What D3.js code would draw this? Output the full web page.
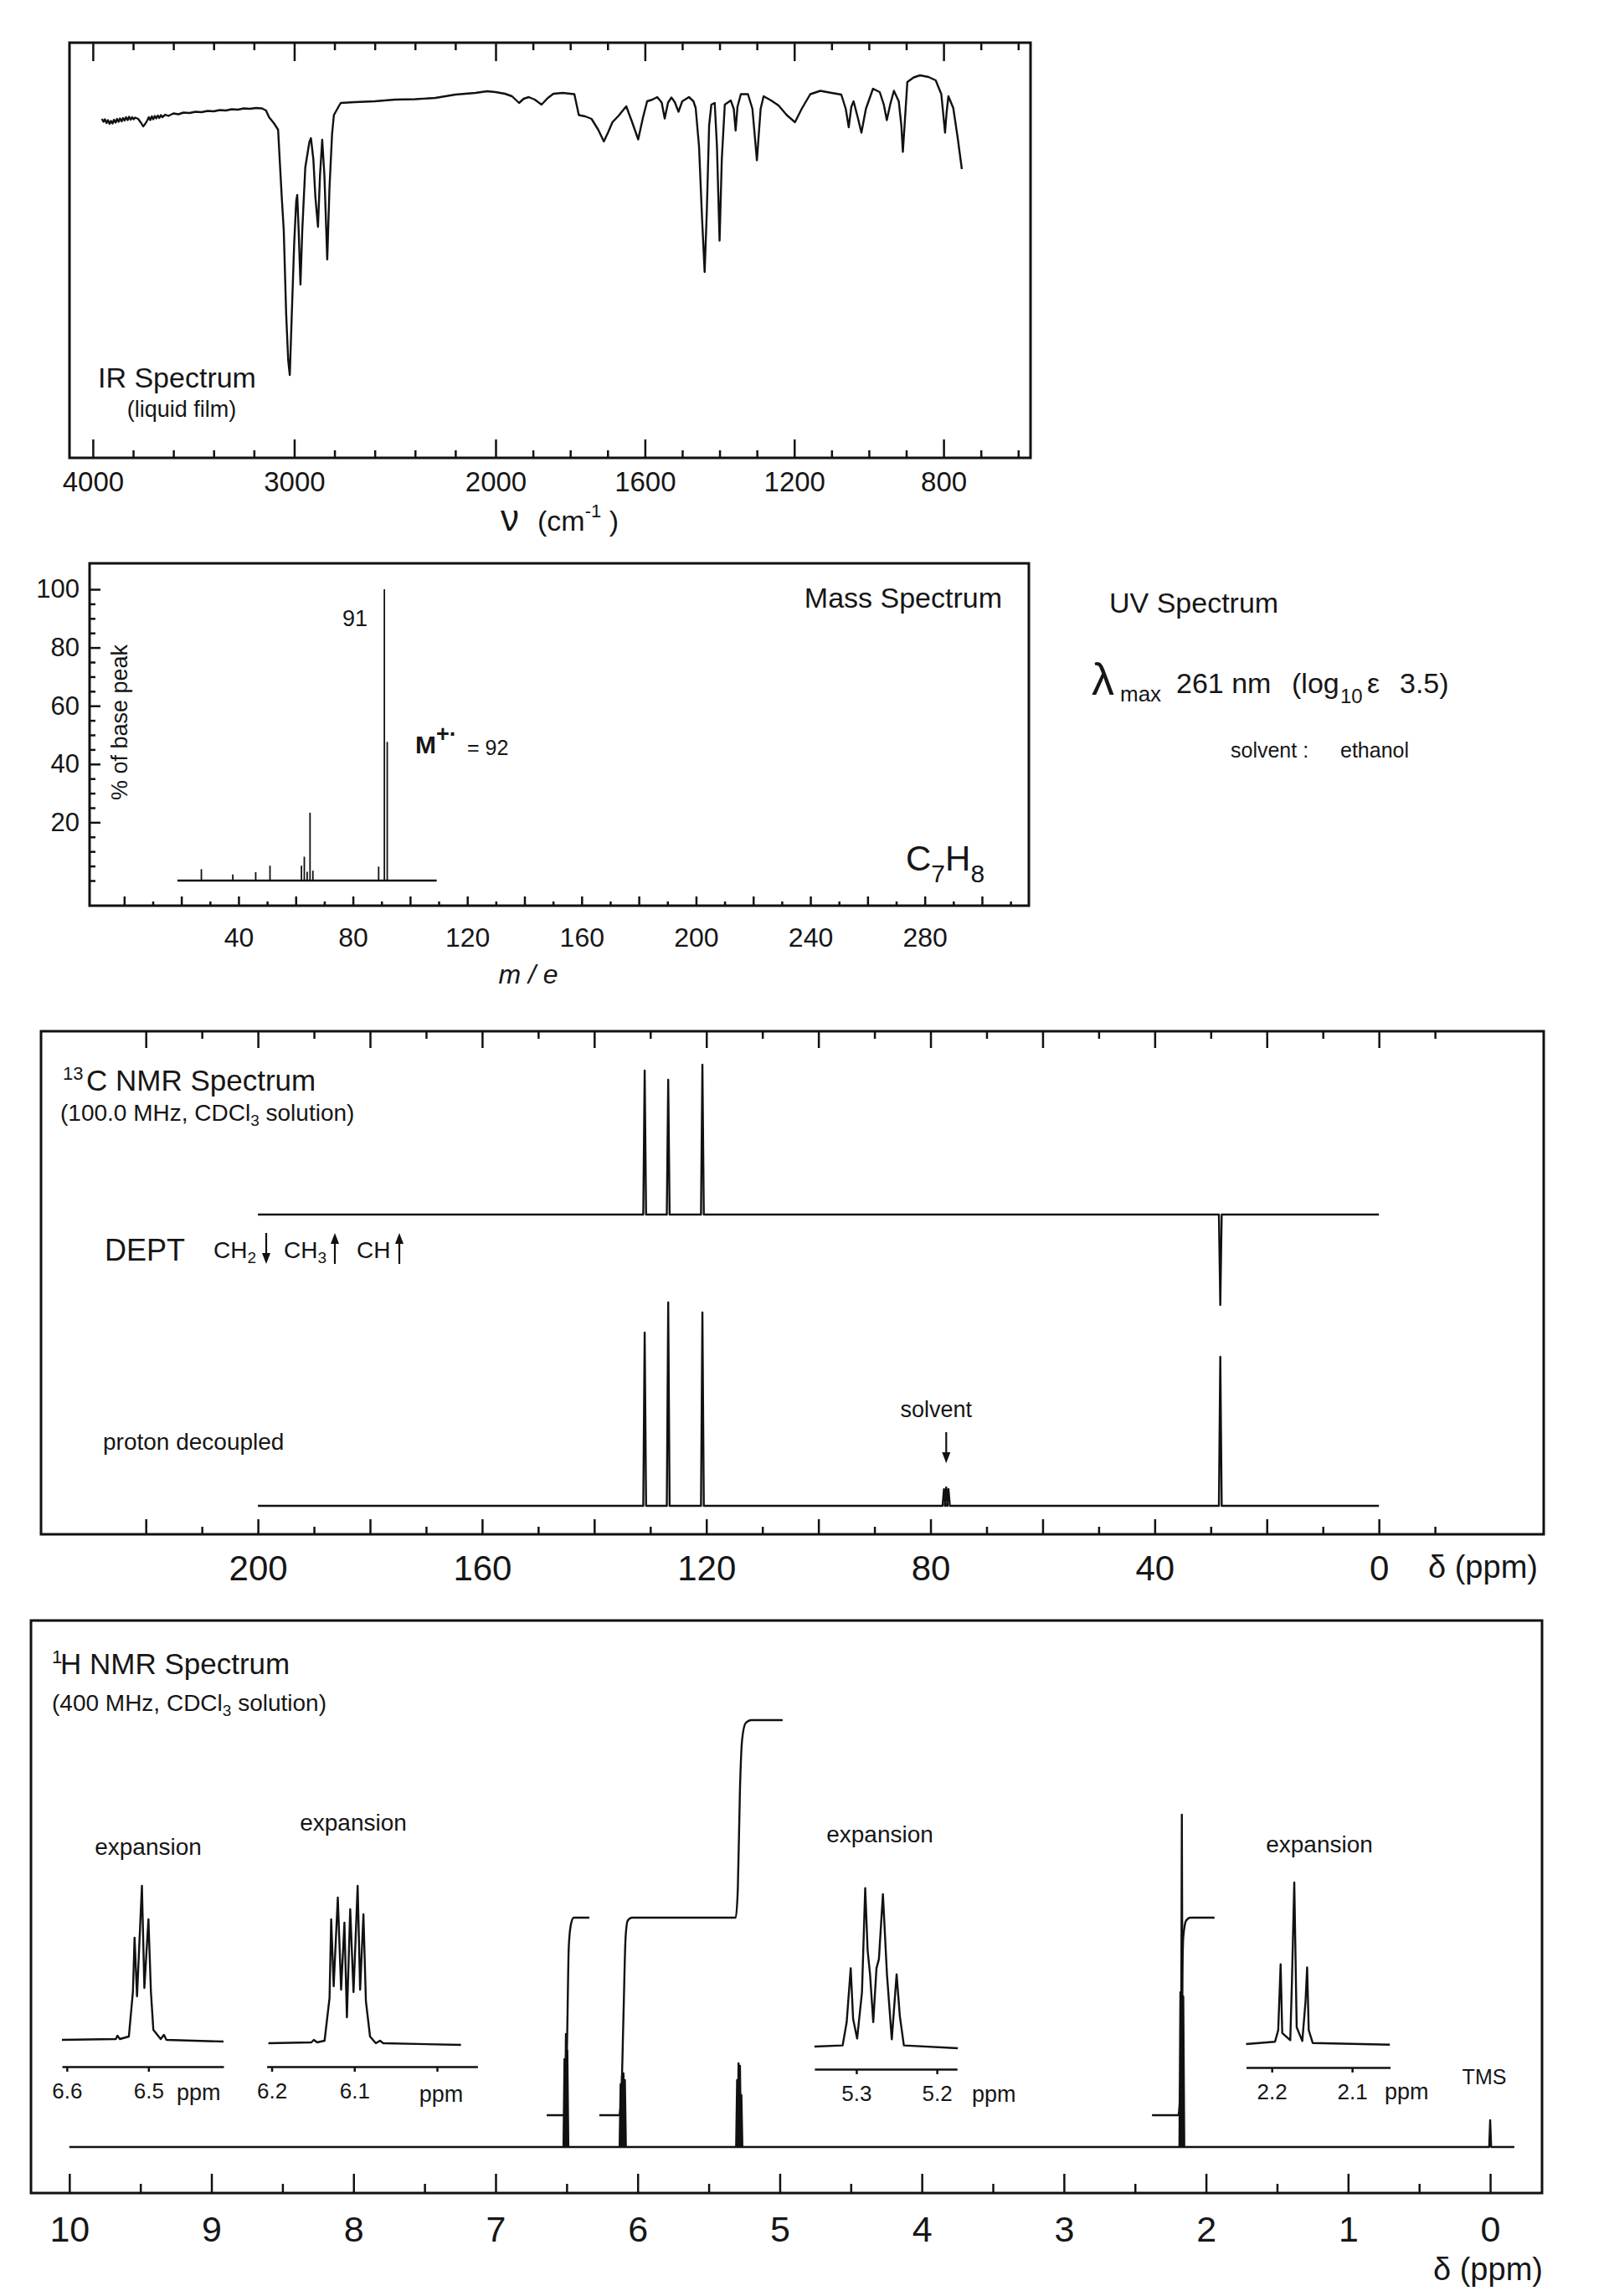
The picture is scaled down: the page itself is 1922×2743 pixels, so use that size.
<!DOCTYPE html>
<html>
<head>
<meta charset="utf-8">
<title>C7H8 spectra</title>
<style>
body { margin: 0; background: #fff; }
svg { display: block; font-family: "Liberation Sans", Arial, Helvetica, sans-serif; }
svg text { fill: #161616; white-space: pre; }
.frame { fill: none; stroke: #111; stroke-width: 3; }
.trace { fill: none; stroke: #111; stroke-width: 2.4; stroke-linejoin: round; }
.thin { fill: none; stroke: #111; stroke-width: 1.8; }
</style>
</head>
<body>
<svg width="1922" height="2743"></svg>
<script src="https://d3js.org/d3.v7.min.js"></script>
<script>
// ---------- data ----------
// IR: [wavenumber, %T]
var irTrace = [
  [3955, 81.6], [3947, 80.9], [3940, 81.5], [3932, 80.6], [3925, 81.3], [3917, 80.4], [3910, 81.1],
  [3902, 80.5], [3895, 81.4], [3887, 80.7], [3880, 81.6], [3872, 80.9], [3865, 81.7], [3857, 81.0],
  [3850, 81.8], [3842, 81.2], [3835, 82.0], [3827, 81.3], [3820, 82.1], [3812, 81.4], [3805, 82.0],
  [3797, 81.5], [3790, 81.9], [3775, 81.6], [3760, 80.6], [3750, 79.8], [3740, 80.4], [3730, 81.2],
  [3722, 82.0], [3715, 81.3], [3707, 82.2], [3700, 81.5], [3692, 82.3], [3685, 81.7], [3677, 82.4],
  [3670, 81.8], [3662, 82.5], [3655, 82.0], [3640, 82.6], [3625, 82.3], [3600, 82.9], [3575, 82.7],
  [3550, 83.1], [3520, 83.0], [3490, 83.3], [3460, 83.2], [3430, 83.5], [3400, 83.4], [3370, 83.7],
  [3340, 83.6], [3310, 83.9], [3280, 83.8], [3250, 84.1], [3220, 84.0], [3190, 84.2], [3160, 84.1],
  [3140, 83.6], [3125, 82.0], [3100, 80.5],
  [3080, 79.0], [3070, 70], [3062, 63], [3052, 55], [3040, 35], [3030, 24], [3022, 20.4], [3012, 35],
  [3000, 52], [2990, 62], [2985, 63.4], [2978, 55], [2969, 42], [2960, 55], [2945, 70], [2925, 76],
  [2917, 77], [2905, 72], [2895, 63], [2882, 55.8], [2872, 68], [2861, 76.6], [2850, 68], [2836, 48],
  [2825, 65], [2812, 78], [2803, 82.5], [2780, 84.5], [2769, 85.4], [2700, 85.6], [2600, 85.8],
  [2500, 86.2], [2400, 86.3], [2300, 86.6], [2200, 87.4], [2100, 87.8], [2042, 88.2], [2000, 88.0],
  [1975, 87.6], [1956, 87], [1937, 85.4], [1925, 86.4], [1911, 86.8], [1895, 86.2], [1877, 85],
  [1860, 86.6], [1845, 87.6], [1820, 87.8], [1800, 87.6], [1789, 87.5], [1777, 82.5], [1760, 82.2],
  [1743, 81.6], [1725, 79], [1710, 76.2], [1698, 78.5], [1687, 80.8], [1670, 82.4], [1650, 84.6],
  [1635, 81], [1618, 76.7], [1605, 82], [1594, 85.8], [1580, 86.2], [1567, 86.8], [1555, 85.5],
  [1547, 81.7], [1538, 85.5], [1529, 86.7], [1520, 85.6], [1510, 83.3], [1500, 85.8], [1482, 86.8],
  [1470, 85.8], [1464, 84.2], [1455, 75], [1447, 58], [1440, 45], [1434, 60], [1428, 80], [1422, 85],
  [1413, 85.4], [1407, 75], [1400, 52.5], [1394, 72], [1386, 85], [1370, 86], [1362, 84], [1357, 78.8],
  [1352, 84.5], [1343, 87.5], [1324, 87.5], [1312, 84], [1300, 71.7], [1290, 84], [1282, 87],
  [1262, 86], [1242, 84.8], [1220, 82.5], [1198, 80.8], [1180, 84], [1157, 87.5], [1130, 88.3],
  [1100, 87.8], [1074, 87.4], [1062, 84], [1054, 79.6], [1047, 84.5], [1041, 85.8], [1030, 82],
  [1020, 78.3], [1008, 84], [989, 88.8], [971, 88], [960, 85], [952, 81.3], [943, 85], [933, 88.3],
  [920, 85.8], [913, 80], [909, 73.7], [903, 82], [897, 90.4], [880, 91.5], [863, 92], [840, 91.6],
  [821, 90.8], [806, 87.5], [800, 82], [796, 78.3], [792, 83], [787, 87], [774, 84.2], [762, 77],
  [751, 69.6]
];
var irMajorTicks = [4000, 3000, 2000, 1600, 1200, 800];

// Mass spectrum: [m/e, % of base peak]
var msPeaks = [[27, 3.9], [38, 2.1], [46, 2.9], [51, 5.1], [62, 5.1], [63, 8.2], [64, 3.0],
  [65, 23.3], [66, 3.4], [89, 4.8], [91, 100], [92, 47.6]];
var msBaseline = [18.6, 109.3];
var msXLabels = [40, 80, 120, 160, 200, 240, 280];
var msYLabels = [20, 40, 60, 80, 100];

// 13C: [ppm, intensity]
var c13Dept = [[131.0, 172], [126.8, 161], [120.7, 179], [28.3, -108]];
var c13Decoupled = [[131.0, 207], [126.8, 243], [120.7, 231], [77.6, 20], [77.2, 22], [76.8, 20], [28.3, 178]];
var c13Labels = [200, 160, 120, 80, 40, 0];

// 1H: [ppm, intensity]
var h1Lines = [[6.515, 105], [6.505, 135], [6.495, 115], [6.12, 75], [6.11, 85], [6.10, 88], [6.09, 80],
  [5.30, 80], [5.29, 100], [5.28, 97], [5.27, 62], [2.18, 185], [2.17, 397], [2.16, 180], [0.0, 32]];
var h1Labels = [10, 9, 8, 7, 6, 5, 4, 3, 2, 1, 0];
// integrals: [ppm, number of H]
var int1 = [[6.64, 0], [6.515, 0], [6.505, 0.15], [6.495, 0.9], [6.485, 1.7], [6.47, 1.93], [6.45, 2.0], [6.34, 2.0]];
var int2 = [[6.27, 0], [6.13, 0], [6.115, 0.2], [6.10, 1.0], [6.085, 1.8], [6.07, 1.97], [6.04, 2.0], [5.31, 2.0],
  [5.295, 2.3], [5.28, 3.3], [5.265, 3.8], [5.24, 3.97], [5.2, 4.0], [4.98, 4.0]];
var int3 = [[2.38, 0], [2.195, 0], [2.18, 0.3], [2.17, 1.2], [2.16, 1.8], [2.14, 1.97], [2.11, 2.0], [1.94, 2.0]];

// expansions: [ppm, intensity]
var exp1Trace = [[6.606, 0], [6.540, 0.5], [6.538, 2.5], [6.535, 0.5], [6.524, 2], [6.519, 29], [6.517, 61],
  [6.514, 26], [6.508, 92], [6.505, 31], [6.500, 72], [6.497, 29], [6.494, 6], [6.485, 0.5], [6.481, 3],
  [6.478, 0], [6.408, -1]];
var exp2Trace = [[6.204, 0], [6.152, 0.5], [6.149, 2], [6.145, 0.5], [6.136, 1.5], [6.130, 27], [6.128, 74],
  [6.125, 34], [6.120, 87], [6.116, 32], [6.112, 72], [6.109, 15.5], [6.105, 80], [6.101, 30.5], [6.096, 94],
  [6.093, 32], [6.089, 77], [6.086, 25], [6.081, 4], [6.074, 0], [6.069, 1.5], [6.065, 0], [5.971, -1]];
var exp3Trace = [[5.352, 0], [5.317, 0.7], [5.312, 14.6], [5.307, 46.8], [5.304, 16.5], [5.299, 4.8],
  [5.293, 32.5], [5.289, 94.6], [5.286, 57.5], [5.283, 43.2], [5.279, 14.6], [5.275, 46.8], [5.272, 52.2],
  [5.267, 91], [5.262, 43.2], [5.256, 4.3], [5.250, 43.2], [5.246, 18.2], [5.241, 0.7], [5.174, -1]];
var exp4Trace = [[2.232, 0], [2.196, 1.4], [2.192, 8.3], [2.189, 47.6], [2.187, 6.6], [2.177, 2.3],
  [2.175, 35.9], [2.172, 96.5], [2.169, 10], [2.162, 1.8], [2.158, 25.5], [2.156, 45.8], [2.154, 8.3],
  [2.149, 0.6], [2.053, -0.4]];

// ---------- layout ----------
var svg = d3.select("svg");
var ink = "#111";

function axis(parent, orient, scale, y, values, size, fmt, pad, fs, keepDomain) {
  var ax = (orient === "bottom" ? d3.axisBottom(scale) : orient === "top" ? d3.axisTop(scale) : d3.axisLeft(scale))
    .tickValues(values).tickSize(size).tickSizeOuter(0).tickPadding(pad || 0)
    .tickFormat(fmt || function() { return ""; });
  var g = parent.append("g")
    .attr("transform", orient === "left" ? "translate(" + y + ",0)" : "translate(0," + y + ")")
    .call(ax)
    .attr("font-family", null)
    .attr("font-size", fs || null);
  if (!keepDomain) g.select(".domain").remove();
  else g.select(".domain").attr("stroke", ink).attr("stroke-width", 2.5);
  g.selectAll(".tick line").attr("stroke", ink).attr("stroke-width", 2.5);
  g.selectAll(".tick text").attr("fill", "#161616");
  return g;
}

function text(parent, x, y, str, fs, anchor) {
  return parent.append("text").attr("x", x).attr("y", y).attr("font-size", fs)
    .attr("text-anchor", anchor || "start").text(str);
}

function spikes(lines, from, to, w) {
  var pts = [[from, 0]];
  lines.slice().sort(function(a, b) { return b[0] - a[0]; }).forEach(function(d) {
    pts.push([d[0] + w, 0], [d[0], d[1]], [d[0] - w, 0]);
  });
  pts.push([to, 0]);
  return pts;
}

function arrow(parent, x, y1, y2) { // head at y2
  var dir = y2 > y1 ? 1 : -1;
  parent.append("line").attr("x1", x).attr("x2", x).attr("y1", y1).attr("y2", y2 - dir * 8)
    .attr("stroke", ink).attr("stroke-width", 2.2);
  parent.append("path").attr("fill", ink)
    .attr("d", "M" + (x - 5) + "," + (y2 - dir * 13) + "L" + (x + 5) + "," + (y2 - dir * 13) + "L" + x + "," + y2 + "Z");
}

// ---------- IR ----------
var ir = svg.append("g");
var irX = d3.scaleLinear().domain([4116, 2000, 567]).range([83, 592, 1231]);
var irY = d3.scaleLinear().domain([0, 100]).range([550, 50]);
var irMinor = d3.range(3800, 2000, -200).concat(d3.range(1900, 550, -100))
  .filter(function(v) { return irMajorTicks.indexOf(v) < 0; });

ir.append("rect").attr("class", "frame").attr("x", 83).attr("y", 51).attr("width", 1148).attr("height", 496);
axis(ir, "bottom", irX, 547, irMajorTicks, -22, function(d) { return d; }, 17, 33);
axis(ir, "bottom", irX, 547, irMinor, -9);
axis(ir, "top", irX, 51, irMajorTicks, -22);
axis(ir, "top", irX, 51, irMinor, -9);
ir.append("path").datum(irTrace).attr("class", "trace").attr("stroke-width", 2.8)
  .attr("d", d3.line().x(function(d) { return irX(d[0]); }).y(function(d) { return irY(d[1]); }));
text(ir, 117, 463, "IR Spectrum", 34);
text(ir, 217, 498, "(liquid film)", 27, "middle");
var nu = ir.append("text").attr("x", 598).attr("y", 634).attr("font-size", 34);
nu.append("tspan").attr("font-size", 44).text("ν");
nu.append("tspan").attr("x", 642).text("(cm");
nu.append("tspan").attr("font-size", 22).attr("dy", -16).text("-1");
nu.append("tspan").attr("dy", 16).text(" )");

// ---------- Mass ----------
var ms = svg.append("g");
var msX = d3.scaleLinear().domain([-12.1, 316.4]).range([107, 1229]);
var msY = d3.scaleLinear().domain([0, 100]).range([1052, 704]);
ms.append("rect").attr("class", "frame").attr("x", 107).attr("y", 673).attr("width", 1122).attr("height", 409);
axis(ms, "bottom", msX, 1082, d3.range(0, 320, 20), -11,
  function(d) { return msXLabels.indexOf(d) >= 0 ? d : ""; }, 26, 32);
axis(ms, "bottom", msX, 1082, d3.range(10, 320, 20), -5);
axis(ms, "left", msY, 107, msYLabels, -13, function(d) { return d; }, 12, 31);
axis(ms, "left", msY, 107, d3.range(0, 101, 5).filter(function(v) { return msYLabels.indexOf(v) < 0; }), -7);
ms.append("line").attr("x1", msX(msBaseline[0])).attr("x2", msX(msBaseline[1]))
  .attr("y1", msY(0)).attr("y2", msY(0)).attr("stroke", ink).attr("stroke-width", 2.6);
ms.selectAll(".peak").data(msPeaks).enter().append("line").attr("class", "thin")
  .attr("x1", function(d) { return msX(d[0]); }).attr("x2", function(d) { return msX(d[0]); })
  .attr("y1", msY(0)).attr("y2", function(d) { return msY(d[1]); });
text(ms, 424, 748, "91", 27, "middle");
var mplus = ms.append("text").attr("x", 496).attr("y", 900).attr("font-size", 30).attr("font-weight", "bold");
mplus.append("tspan").text("M");
mplus.append("tspan").attr("font-size", 27).attr("dy", -14).text("+·");
mplus.append("tspan").attr("font-weight", "normal").attr("font-size", 25).attr("dy", 16).attr("x", 558).text("= 92");
text(ms, 1197, 726, "Mass Spectrum", 34, "end");
text(ms, 631, 1175, "m / e", 32, "middle").attr("font-style", "italic");
text(ms, 0, 0, "% of base peak", 27, "middle").attr("transform", "translate(152,863) rotate(-90)");
var cf = ms.append("text").attr("x", 1082).attr("y", 1040).attr("font-size", 42);
cf.append("tspan").text("C");
cf.append("tspan").attr("font-size", 30).attr("dy", 14).text("7");
cf.append("tspan").attr("dy", -14).text("H");
cf.append("tspan").attr("font-size", 30).attr("dy", 14).text("8");

// ---------- UV ----------
var uv = svg.append("g");
text(uv, 1325, 732, "UV Spectrum", 34);
text(uv, 1304, 830, "λ", 54);
text(uv, 1338, 838, "max", 26);
text(uv, 1405, 828, "261 nm", 34);
var lg = uv.append("text").attr("y", 828).attr("font-size", 34);
lg.append("tspan").attr("x", 1543).text("(log");
lg.append("tspan").attr("x", 1601).attr("dy", 12).attr("font-size", 24).text("10");
lg.append("tspan").attr("x", 1633).attr("dy", -12).text("ε");
lg.append("tspan").attr("x", 1672).text("3.5)");
text(uv, 1470, 905, "solvent :", 25);
text(uv, 1601, 905, "ethanol", 25);

// ---------- 13C ----------
var c13 = svg.append("g");
var cX = d3.scaleLinear().domain([238.7, -29.4]).range([49, 1844]);
function level(base) { return d3.scaleLinear().domain([0, 100]).range([base, base - 100]); }
var deptY = level(1451), decY = level(1799);
c13.append("rect").attr("class", "frame").attr("x", 49).attr("y", 1232).attr("width", 1795).attr("height", 601);
var cMajor = d3.range(220, -1, -20), cMinor = d3.range(210, -11, -20);
axis(c13, "bottom", cX, 1833, cMajor, -18, function(d) { return c13Labels.indexOf(d) >= 0 ? d : ""; }, 25, 42);
axis(c13, "bottom", cX, 1833, cMinor, -9);
axis(c13, "top", cX, 1232, cMajor, -20);
axis(c13, "top", cX, 1232, cMinor, -9);
c13.append("path").datum(spikes(c13Dept, 200, 0, 0.25)).attr("class", "trace").attr("stroke-width", 2.8)
  .attr("d", d3.line().x(function(d) { return cX(d[0]); }).y(function(d) { return deptY(d[1]); }));
c13.append("path").datum(spikes(c13Decoupled, 200, 0, 0.25)).attr("class", "trace").attr("stroke-width", 2.8)
  .attr("d", d3.line().x(function(d) { return cX(d[0]); }).y(function(d) { return decY(d[1]); }));
var ct = c13.append("text").attr("y", 1303).attr("font-size", 35);
ct.append("tspan").attr("x", 75).attr("font-size", 22).attr("dy", -13).text("13");
ct.append("tspan").attr("x", 103).attr("dy", 13).text("C NMR Spectrum");
var cs = c13.append("text").attr("x", 72).attr("y", 1339).attr("font-size", 28);
cs.append("tspan").text("(100.0 MHz, CDCl");
cs.append("tspan").attr("font-size", 19).attr("dy", 6).text("3");
cs.append("tspan").attr("dy", -6).text(" solution)");
text(c13, 125, 1506, "DEPT", 36);
var dp = c13.append("text").attr("y", 1503).attr("font-size", 28);
dp.append("tspan").attr("x", 255).text("CH");
dp.append("tspan").attr("font-size", 19).attr("dy", 6).text("2");
dp.append("tspan").attr("x", 339).attr("dy", -6).text("CH");
dp.append("tspan").attr("font-size", 19).attr("dy", 6).text("3");
dp.append("tspan").attr("x", 426).attr("dy", -6).text("CH");
arrow(c13, 318, 1473, 1510);
arrow(c13, 400, 1510, 1473);
arrow(c13, 477, 1510, 1473);
text(c13, 123, 1732, "proton decoupled", 28);
text(c13, cX(77.2) - 12, 1693, "solvent", 27, "middle");
arrow(c13, cX(77.2), 1711, 1748);
text(c13, 1706, 1885, "δ (ppm)", 38);

// ---------- 1H ----------
var h1 = svg.append("g");
var hX = d3.scaleLinear().domain([10.27, -0.365]).range([37, 1842]);
var hY = level(2565);
var intY = d3.scaleLinear().domain([0, 4]).range([2527, 2055]);
h1.append("rect").attr("class", "frame").attr("x", 37).attr("y", 1936).attr("width", 1805).attr("height", 684);
axis(h1, "bottom", hX, 2620, d3.range(0, 11, 1), -23, function(d) { return d; }, 27, 43);
axis(h1, "bottom", hX, 2620, d3.range(0.5, 10, 1), -11);
h1.append("path").datum(spikes(h1Lines, 10.0, -0.17, 0.007)).attr("class", "trace")
  .attr("d", d3.line().x(function(d) { return hX(d[0]); }).y(function(d) { return hY(d[1]); }));
[int1, int2, int3].forEach(function(tr) {
  h1.append("path").datum(tr).attr("class", "trace").attr("stroke-width", 2.6)
    .attr("d", d3.line().curve(d3.curveMonotoneX)
      .x(function(d) { return hX(d[0]); }).y(function(d) { return intY(d[1]); }));
});
var ht = h1.append("text").attr("y", 2000).attr("font-size", 35);
ht.append("tspan").attr("x", 62).attr("font-size", 22).attr("dy", -13).text("1");
ht.append("tspan").attr("x", 72).attr("dy", 13).text("H NMR Spectrum");
var hs = h1.append("text").attr("x", 62).attr("y", 2044).attr("font-size", 28);
hs.append("tspan").text("(400 MHz, CDCl");
hs.append("tspan").attr("font-size", 19).attr("dy", 6).text("3");
hs.append("tspan").attr("dy", -6).text(" solution)");
text(h1, 1773, 2490, "TMS", 25, "middle");
text(h1, 1712, 2724, "δ (ppm)", 38);

// expansions
var expLayout = [
  { trace: exp1Trace, dom: [6.606, 6.408], rng: [74, 267], base: 2437, axisY: 2469,
    ticks: [6.6, 6.5], title: [177, 2216], ppm: [211, 2509, "start"] },
  { trace: exp2Trace, dom: [6.206, 5.951], rng: [318.6, 570.4], base: 2441, axisY: 2469,
    ticks: [6.2, 6.1, 6.0], title: [422, 2187], ppm: [527, 2511, "middle"] },
  { trace: exp3Trace, dom: [5.352, 5.175], rng: [972.9, 1143.2], base: 2445, axisY: 2472,
    ticks: [5.3, 5.2], title: [1051, 2201], ppm: [1161, 2511, "start"] },
  { trace: exp4Trace, dom: [2.232, 2.0526], rng: [1488.5, 1660.6], base: 2442, axisY: 2470,
    ticks: [2.2, 2.1], title: [1576, 2213], ppm: [1654, 2508, "start"] }
];
expLayout.forEach(function(e) {
  var ex = d3.scaleLinear().domain(e.dom).range(e.rng);
  var ey = d3.scaleLinear().domain([0, 100]).range([e.base, e.base - 200]);
  h1.append("path").datum(e.trace).attr("class", "trace").attr("stroke-width", 2.2)
    .attr("d", d3.line().x(function(d) { return ex(d[0]); }).y(function(d) { return ey(d[1]); }));
  axis(h1, "bottom", ex, e.axisY, e.ticks, 6,
    function(d) { return d === 6.0 ? "" : d.toFixed(1); }, 14, 26, true);
  text(h1, e.title[0], e.title[1], "expansion", 28, "middle");
  text(h1, e.ppm[0], e.ppm[1], "ppm", 27, e.ppm[2]);
});
</script>
</body>
</html>
